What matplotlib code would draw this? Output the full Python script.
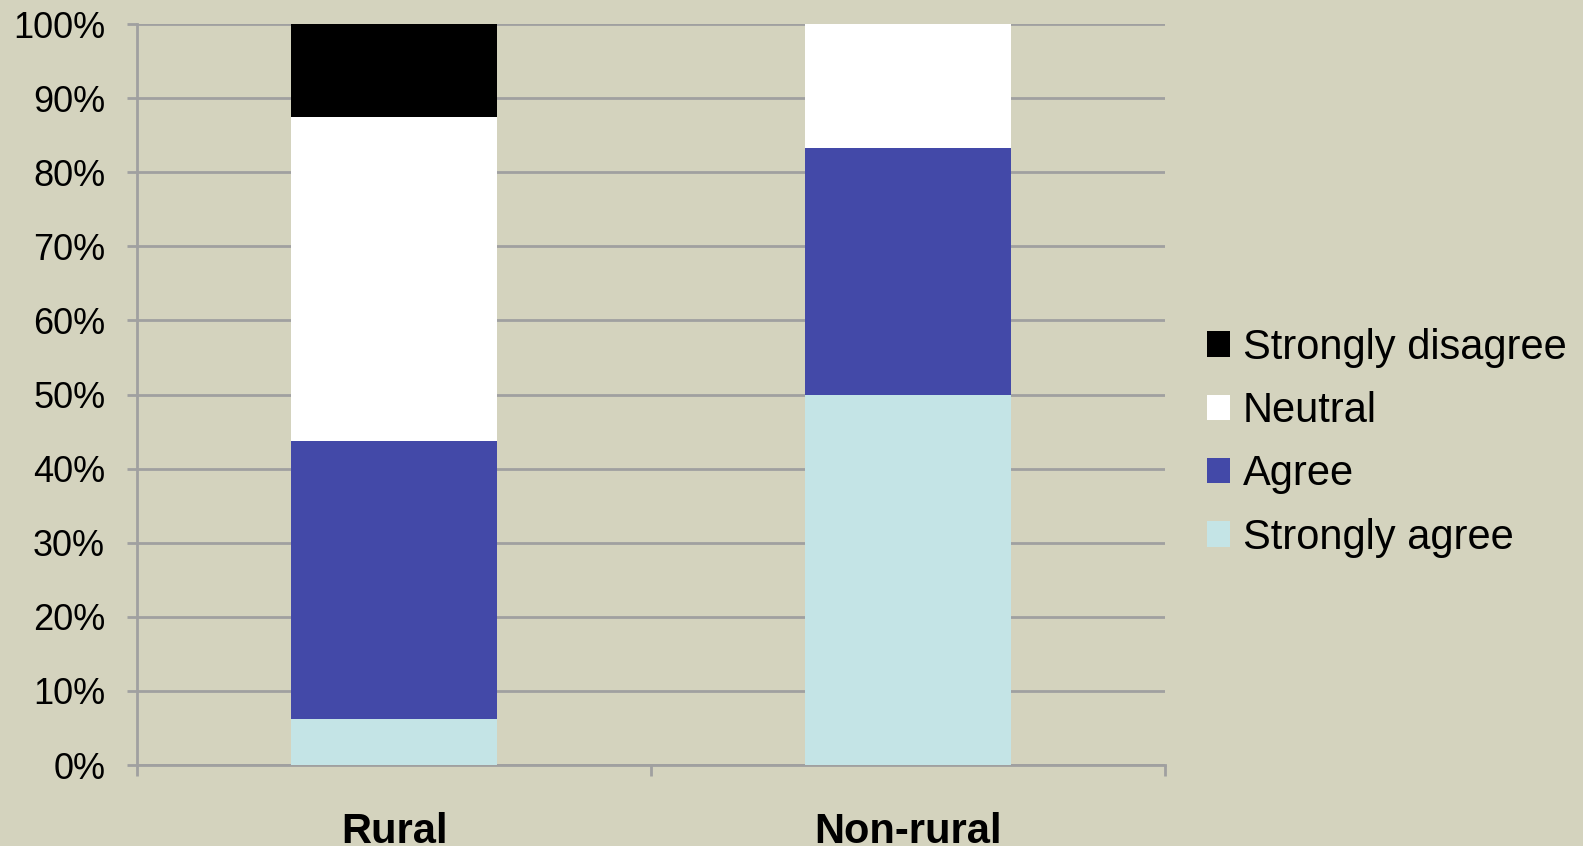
import matplotlib.pyplot as plt
from matplotlib.patches import Patch
from matplotlib.ticker import FixedLocator, PercentFormatter

plt.rcParams['font.family'] = ['Liberation Sans', 'DejaVu Sans']

groups = ['Rural', 'Non-rural']
categories = ['Strongly agree', 'Agree', 'Neutral', 'Strongly disagree']
shares = {
    'Strongly agree': [6.25, 50.0],
    'Agree': [37.5, 33.33],
    'Neutral': [43.75, 16.67],
    'Strongly disagree': [12.5, 0.0],
}
colors = {
    'Strongly agree': '#C4E4E6',
    'Agree': '#4349A8',
    'Neutral': '#FFFFFF',
    'Strongly disagree': '#000000',
}

bg = '#D4D3BE'
grid_col = '#A0A0A0'

fig = plt.figure(figsize=(15.83, 8.46), dpi=100, facecolor=bg)
ax = fig.add_axes([0.0866, 0.0957, 0.6494, 0.8759])
ax.set_facecolor(bg)

pos = [0.5, 1.5]
bottom = [0.0, 0.0]
for cat in categories:
    vals = shares[cat]
    ax.bar(pos, vals, width=0.4, bottom=bottom, color=colors[cat], zorder=3)
    bottom = [b + v for b, v in zip(bottom, vals)]

ax.set_xlim(0, 2)
ax.set_ylim(0, 100)
ax.set_yticks(range(0, 101, 10))
ax.yaxis.set_major_formatter(PercentFormatter(decimals=0))
ax.yaxis.grid(True, color=grid_col, linewidth=2, zorder=0)

ax.set_xticks([0, 1, 2])
ax.set_xticklabels([])
ax.xaxis.set_minor_locator(FixedLocator(pos))
ax.set_xticklabels(groups, minor=True, fontsize=30, fontweight='bold')
ax.tick_params(axis='x', which='major', length=8, width=2, color=grid_col, direction='out')
ax.tick_params(axis='x', which='minor', length=0, pad=34)
ax.tick_params(axis='y', length=7, width=2, color=grid_col, labelsize=26, pad=16)

for side in ['top', 'right']:
    ax.spines[side].set_visible(False)
for side in ['left', 'bottom']:
    ax.spines[side].set_color(grid_col)
    ax.spines[side].set_linewidth(2)

handles = [Patch(facecolor=colors[c], edgecolor='none') for c in reversed(categories)]
ax.legend(handles, list(reversed(categories)), loc='center left', bbox_to_anchor=(1.041, 0.435),
          frameon=False, fontsize=30, handlelength=0.55, handleheight=0.55,
          handletextpad=0.3, labelspacing=0.56, borderpad=0, borderaxespad=0)

fig.savefig('out.png', dpi=100, facecolor=bg)
